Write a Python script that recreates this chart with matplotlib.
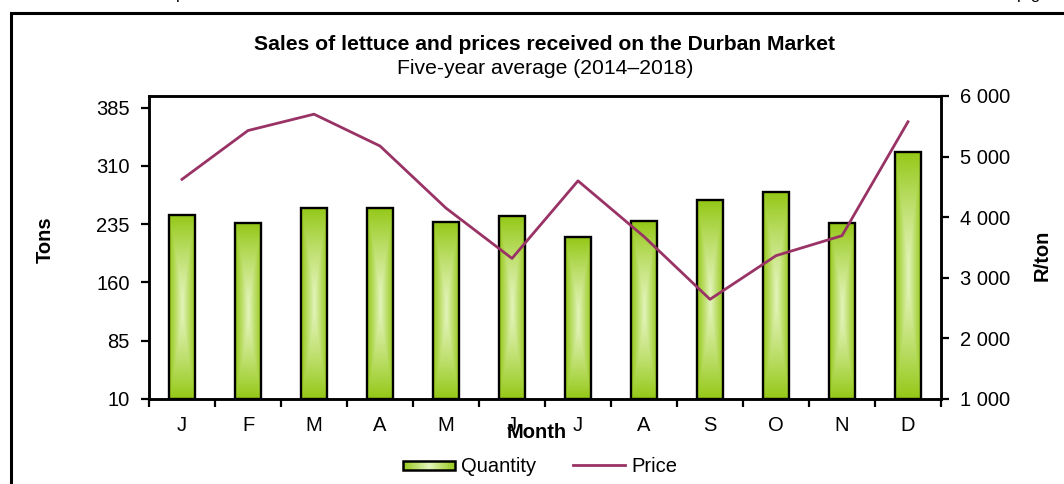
import numpy as np
import matplotlib
matplotlib.use("Agg")
import matplotlib.pyplot as plt
from matplotlib.patches import Rectangle
from matplotlib.lines import Line2D
from matplotlib.legend_handler import HandlerBase
from matplotlib.colors import to_rgb

plt.rcParams['font.family'] = ['Liberation Sans', 'DejaVu Sans']

months = ['J', 'F', 'M', 'A', 'M', 'J', 'J', 'A', 'S', 'O', 'N', 'D']
quantity = [247, 236, 256, 256, 238, 245, 218, 239, 266, 276, 237, 328]
price = [4625, 5430, 5700, 5175, 4150, 3320, 4600, 3680, 2645, 3365, 3695, 5575]
left_ticks = [10, 85, 160, 235, 310, 385]
right_ticks = [1000, 2000, 3000, 4000, 5000, 6000]
right_labels = ['1 000', '2 000', '3 000', '4 000', '5 000', '6 000']

title = 'Sales of lettuce and prices received on the Durban Market'
subtitle = 'Five-year average (2014\u20132018)'

GREEN = np.array(to_rgb('#94c816'))
LIGHT = np.array(to_rgb('#e4f4bc'))
LINEC = '#993366'
FS = 14.5
TFS = 15.2

W, H = 1064, 484
fig = plt.figure(figsize=(W / 100, H / 100), dpi=100)

def fx(px):
    return px / W

def fy(py):
    return 1 - py / H

# outer border
fig.patches.append(Rectangle((fx(11), fy(H + 10)), fx(W + 20), (H + 10 - 12.5) / H,
                             transform=fig.transFigure, fill=False,
                             edgecolor='black', linewidth=2.2, zorder=0))
# cut-off text fragments at top
for xp, s in [(181, 'p'), (1029, 'p g')]:
    fig.text(fx(xp), fy(-1), s, ha='center', va='baseline', fontsize=12, color='black')

ax = fig.add_axes([fx(149), fy(399), fx(941) - fx(149), (399 - 96) / H])
ax2 = ax.twinx()

x = np.arange(len(months))
bw = 0.4
ax.set_xlim(-0.5, len(months) - 0.5)
ax.set_ylim(10, 400)

# gradient image
ny, nx = 200, 60
u = np.abs(np.linspace(-1, 1, nx))[None, :]
v = np.abs(np.linspace(-1, 1, ny))[:, None]
t = np.clip(np.maximum(u ** 1.2, v ** 1.6), 0, 1)
t = t ** 0.8
img = LIGHT[None, None, :] * (1 - t[..., None]) + GREEN[None, None, :] * t[..., None]

bars = ax.bar(x, [q - 10 for q in quantity], width=bw, bottom=10,
              facecolor='none', edgecolor='black', linewidth=1.7, zorder=3)
for b in bars:
    x0, y0 = b.get_x(), b.get_y()
    w, h = b.get_width(), b.get_height()
    im = ax.imshow(img, extent=[x0, x0 + w, y0, y0 + h], aspect='auto',
                   origin='lower', zorder=2, interpolation='bilinear')
    im.set_clip_path(b)
ax.set_xlim(-0.5, len(months) - 0.5)
ax.set_ylim(10, 400)

ax2.plot(x, price, color=LINEC, linewidth=2.0, zorder=5)
ax2.set_ylim(1000, 6000)

# ticks
ax.set_yticks(left_ticks)
ax.set_yticklabels([str(v) for v in left_ticks], fontsize=FS)
ax2.set_yticks(right_ticks)
ax2.set_yticklabels(right_labels, fontsize=FS)
ax.set_xticks(np.arange(-0.5, len(months) + 0.5, 1))
ax.set_xticklabels([])
ax.set_xticks(x, minor=True)
ax.set_xticklabels(months, minor=True, fontsize=FS)
ax.tick_params(axis='x', which='major', direction='out', length=6, width=1.6)
ax.tick_params(axis='x', which='minor', length=0, pad=12)
ax.tick_params(axis='y', direction='out', length=6, width=1.6, pad=8)
ax2.tick_params(axis='y', direction='out', length=6, width=1.6, pad=8)

for a in (ax, ax2):
    for s in a.spines.values():
        s.set_linewidth(1.8)
        s.set_color('black')

# titles and labels
fig.text(fx(544), fy(45), title, ha='center', va='center', fontsize=TFS, fontweight='bold')
fig.text(fx(545), fy(68), subtitle, ha='center', va='center', fontsize=TFS)
fig.text(fx(537), fy(432), 'Month', ha='center', va='center', fontsize=FS, fontweight='bold')
fig.text(fx(45), fy(240), 'Tons', ha='center', va='center', fontsize=FS,
         fontweight='bold', rotation=90)
fig.text(fx(1042), fy(255), 'R/ton', ha='center', va='center', fontsize=FS,
         fontweight='bold', rotation=90)

# legend
class GradientHandler(HandlerBase):
    def create_artists(self, legend, orig_handle, xdescent, ydescent, width, height,
                       fontsize, trans):
        arts = []
        n = 30
        hh = height * 0.7
        y0 = -ydescent + (height - hh) / 2
        for i in range(n):
            tt = abs((i + 0.5) / n * 2 - 1)
            c = LIGHT * (1 - tt) + GREEN * tt
            r = Rectangle((-xdescent + width * i / n, y0), width / n + 0.3, hh,
                          facecolor=c, edgecolor='none', transform=trans)
            arts.append(r)
        arts.append(Rectangle((-xdescent, y0), width, hh, facecolor='none',
                              edgecolor='black', linewidth=1.8, transform=trans))
        return arts

qh = Rectangle((0, 0), 1, 1)
ph = Line2D([], [], color=LINEC, linewidth=2.0)
fig.legend([qh, ph], ['Quantity', 'Price'], loc='center', bbox_to_anchor=(fx(540), fy(467)),
           ncol=2, frameon=False, fontsize=FS, handlelength=2.6, handletextpad=0.3,
           columnspacing=1.8, handler_map={Rectangle: GradientHandler()})

fig.savefig('out.png', dpi=100)
